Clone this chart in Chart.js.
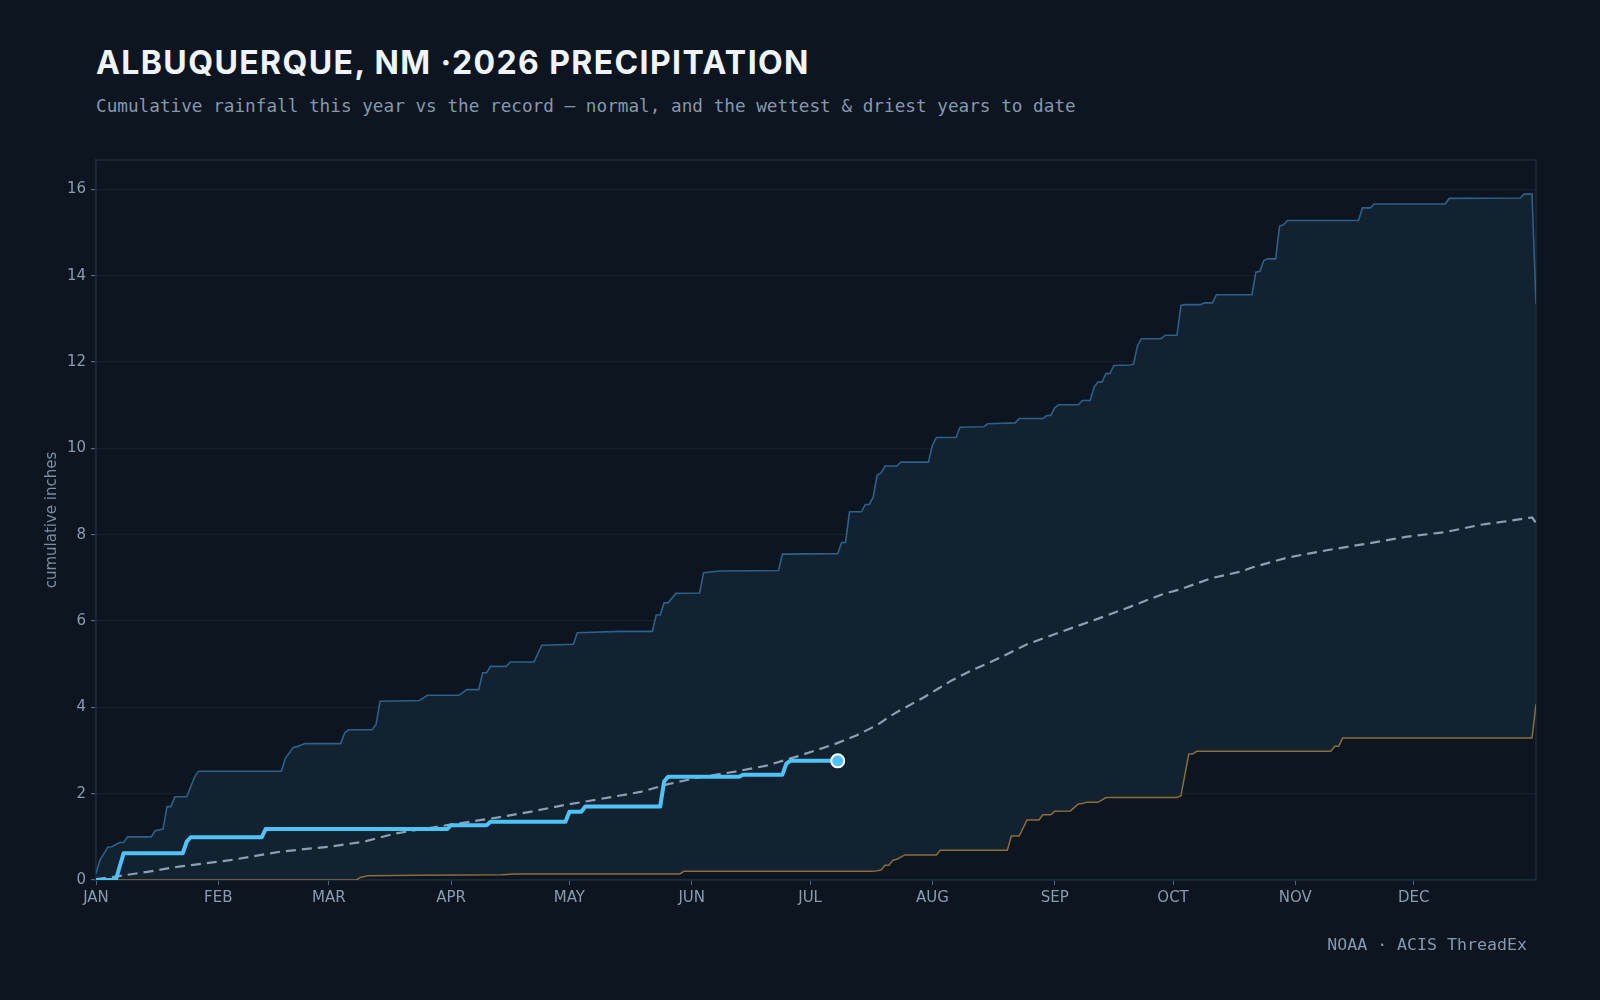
<!DOCTYPE html>
<html>
<head>
<meta charset="utf-8">
<title>Albuquerque, NM 2026 precipitation</title>
<script src="https://cdn.jsdelivr.net/npm/chart.js@4.4.1/dist/chart.umd.min.js"></script>
<style>
  html, body { margin: 0; padding: 0; background: #0c1520; }
  #wrap { position: relative; width: 1600px; height: 1000px; overflow: hidden; background: #0c1520; }
  #chart { position: absolute; left: 0; top: 0; }
  .title { position: absolute; left: 96px; top: 47px; font: 700 32px Inter, sans-serif; letter-spacing: 1.4px; line-height: 1; color: #eef4fa; white-space: nowrap; }
  .sub { position: absolute; left: 96px; top: 98px; font: 17.7px "DejaVu Sans Mono", monospace; line-height: 1; color: #8798ad; white-space: nowrap; }
  .src { position: absolute; right: 73px; top: 937px; font: 16.6px "DejaVu Sans Mono", monospace; line-height: 1; color: #8798ad; white-space: nowrap; }
</style>
</head>
<body>
<div id="wrap">
  <div class="title">ALBUQUERQUE, NM ·2026 PRECIPITATION</div>
  <div class="sub">Cumulative rainfall this year vs the record — normal, and the wettest &amp; driest years to date</div>
  <canvas id="chart" width="1600" height="1000"></canvas>
  <div class="src">NOAA · ACIS ThreadEx</div>
</div>
<script>
// x = day of year (0 = Jan 1), y = cumulative inches
const MONTH_LABELS = ['JAN', 'FEB', 'MAR', 'APR', 'MAY', 'JUN', 'JUL', 'AUG', 'SEP', 'OCT', 'NOV', 'DEC'];
const MONTH_DAYS = [0, 31, 59, 90, 120, 151, 181, 212, 243, 273, 304, 334];

const thisYear = [
  [0, 0], [5, 0], [7, 0.62], [22, 0.62], [23, 0.89], [24, 0.99], [42, 0.99], [43, 1.18],
  [89, 1.18], [90, 1.27], [99, 1.27], [100, 1.35], [119, 1.35], [120, 1.58], [123, 1.58],
  [124, 1.70], [143, 1.70], [144, 2.28], [145, 2.39], [163, 2.39], [164, 2.44], [174, 2.44],
  [175, 2.70], [176, 2.76], [188, 2.76]
];

const normal = [
  [0, 0.02], [5, 0.08], [13, 0.19], [21, 0.31], [34, 0.46], [47, 0.66], [59, 0.77], [68, 0.89],
  [76, 1.08], [89, 1.27], [102, 1.45], [110, 1.58], [119, 1.74], [128, 1.88], [138, 2.04],
  [145, 2.22], [153, 2.38], [162, 2.51], [170, 2.65], [178, 2.87], [187, 3.14], [193, 3.36],
  [198, 3.59], [201, 3.78], [204, 3.94], [210, 4.24], [217, 4.63], [222, 4.86], [228, 5.10],
  [236, 5.46], [244, 5.73], [253, 6.02], [261, 6.29], [270, 6.61], [275, 6.74], [283, 7.00],
  [290, 7.14], [293, 7.24], [302, 7.47], [312, 7.64], [322, 7.79], [332, 7.95], [342, 8.06],
  [351, 8.23], [359, 8.33], [364, 8.40], [365, 8.27]
];

const wettest = [
  [0, 0.15], [1, 0.46], [3, 0.76], [4, 0.77], [6, 0.87], [7, 0.87], [8, 1.00], [14, 1.00],
  [15, 1.14], [17, 1.18], [18, 1.70], [19, 1.70], [20, 1.93], [23, 1.93], [25, 2.39], [26, 2.52],
  [47, 2.52], [48, 2.82], [50, 3.07], [51, 3.09], [53, 3.16], [62, 3.16], [63, 3.40], [64, 3.48],
  [70, 3.48], [71, 3.61], [72, 4.14], [82, 4.16], [84, 4.28], [92, 4.28], [94, 4.41], [97, 4.41],
  [98, 4.80], [99, 4.80], [100, 4.95], [104, 4.95], [105, 5.05], [111, 5.05], [113, 5.44],
  [121, 5.46], [122, 5.73], [133, 5.76], [141, 5.76], [142, 6.14], [143, 6.14], [144, 6.42],
  [145, 6.42], [147, 6.64], [153, 6.65], [154, 7.12], [158, 7.16], [173, 7.17], [174, 7.55],
  [188, 7.56], [189, 7.82], [190, 7.82], [191, 8.53], [194, 8.53], [195, 8.70], [196, 8.70],
  [197, 8.87], [198, 9.38], [199, 9.43], [200, 9.59], [203, 9.59], [204, 9.68], [211, 9.68],
  [212, 10.07], [213, 10.25], [218, 10.25], [219, 10.49], [225, 10.50], [226, 10.57], [233, 10.59],
  [234, 10.69], [240, 10.69], [241, 10.76], [242, 10.76], [243, 10.94], [244, 11.01], [249, 11.01],
  [250, 11.11], [252, 11.11], [253, 11.42], [254, 11.54], [255, 11.54], [256, 11.73], [257, 11.73],
  [258, 11.92], [262, 11.93], [263, 11.95], [264, 12.38], [265, 12.54], [270, 12.54], [271, 12.62],
  [274, 12.62], [275, 13.31], [276, 13.33], [280, 13.33], [281, 13.37], [283, 13.37], [284, 13.56],
  [293, 13.56], [294, 14.08], [295, 14.10], [296, 14.35], [297, 14.39], [299, 14.39], [300, 15.15],
  [301, 15.18], [302, 15.28], [320, 15.28], [321, 15.57], [323, 15.57], [324, 15.66], [342, 15.66],
  [343, 15.79], [361, 15.80], [362, 15.89], [364, 15.89], [365, 13.35]
];

const driest = [
  [0, 0], [66, 0], [67, 0.06], [69, 0.10], [82, 0.11], [103, 0.12], [106, 0.14], [148, 0.14],
  [149, 0.20], [197, 0.20], [199, 0.23], [200, 0.34], [201, 0.34], [202, 0.46], [203, 0.48],
  [205, 0.58], [213, 0.58], [214, 0.69], [231, 0.69], [232, 1.02], [234, 1.02], [236, 1.39],
  [239, 1.39], [240, 1.51], [242, 1.51], [243, 1.59], [247, 1.60], [249, 1.76], [250, 1.77],
  [251, 1.80], [254, 1.80], [256, 1.91], [274, 1.91], [275, 1.95], [277, 2.92], [278, 2.92],
  [279, 2.98], [313, 2.98], [314, 3.10], [315, 3.10], [316, 3.29], [364, 3.29], [365, 4.07]
];

const Y_MAX = 16.68;
const TICK_COLOR = '#8b9bb0';
const GRID_COLOR = '#15222e';
const FRAME_COLOR = '#1b2c3d';
const MARK_COLOR = '#566679';

const toXY = (arr) => arr.map(([x, y]) => ({ x, y }));

// frame round the plot area
const frame = {
  id: 'frame',
  beforeDatasetsDraw(chart) {
    const { ctx, chartArea: a } = chart;
    ctx.save();
    ctx.strokeStyle = FRAME_COLOR;
    ctx.lineWidth = 1.5;
    ctx.strokeRect(a.left, a.top, a.right - a.left, a.bottom - a.top);
    ctx.restore();
  }
};

new Chart(document.getElementById('chart').getContext('2d'), {
  type: 'line',
  data: {
    datasets: [
      {
        label: '2026',
        data: toXY(thisYear),
        borderColor: '#4fc3f7',
        borderWidth: 4,
        borderJoinStyle: 'round',
        pointRadius: (c) => (c.dataIndex === thisYear.length - 1 ? 6.5 : 0),
        pointBackgroundColor: '#4fc3f7',
        pointBorderColor: '#ffffff',
        pointBorderWidth: 2,
        fill: false
      },
      {
        label: 'normal',
        data: toXY(normal),
        borderColor: '#8d9fb1',
        borderWidth: 2.2,
        borderDash: [10, 6],
        pointRadius: 0,
        fill: false
      },
      {
        label: 'wettest',
        data: toXY(wettest),
        borderColor: '#2c618c',
        borderWidth: 1.6,
        pointRadius: 0,
        fill: 3,
        backgroundColor: '#122230'
      },
      {
        label: 'driest',
        data: toXY(driest),
        borderColor: '#8c6d3c',
        borderWidth: 1.5,
        pointRadius: 0,
        fill: false
      }
    ]
  },
  options: {
    responsive: false,
    animation: false,
    events: [],
    layout: { padding: { top: 160, right: 64, bottom: 0, left: 0 } },
    elements: { line: { tension: 0 } },
    plugins: {
      legend: { display: false },
      tooltip: { enabled: false },
      filler: { drawTime: 'beforeDatasetsDraw' }
    },
    scales: {
      x: {
        type: 'linear',
        min: 0,
        max: 365,
        afterBuildTicks: (s) => { s.ticks = MONTH_DAYS.map((v) => ({ value: v })); },
        afterFit: (s) => { s.height = 120; },
        ticks: {
          callback: (v, i) => MONTH_LABELS[i],
          color: TICK_COLOR,
          font: { family: 'DejaVu Sans', size: 15 },
          padding: 4,
          maxRotation: 0,
          autoSkip: false
        },
        grid: { drawOnChartArea: false, tickLength: 5, tickColor: MARK_COLOR },
        border: { color: FRAME_COLOR, width: 1.5 }
      },
      y: {
        min: 0,
        max: Y_MAX,
        afterFit: (s) => { s.width = 96; },
        ticks: {
          stepSize: 2,
          includeBounds: false,
          color: TICK_COLOR,
          font: { family: 'DejaVu Sans', size: 15 },
          padding: 5
        },
        grid: { color: GRID_COLOR, lineWidth: 1.2, tickLength: 5, tickColor: MARK_COLOR },
        border: { color: FRAME_COLOR, width: 1.5 },
        title: {
          display: true,
          text: 'cumulative inches',
          color: '#7d8ea3',
          font: { family: 'DejaVu Sans', size: 15 },
          padding: { top: 43 }
        }
      }
    }
  },
  plugins: [frame]
});
</script>
</body>
</html>
